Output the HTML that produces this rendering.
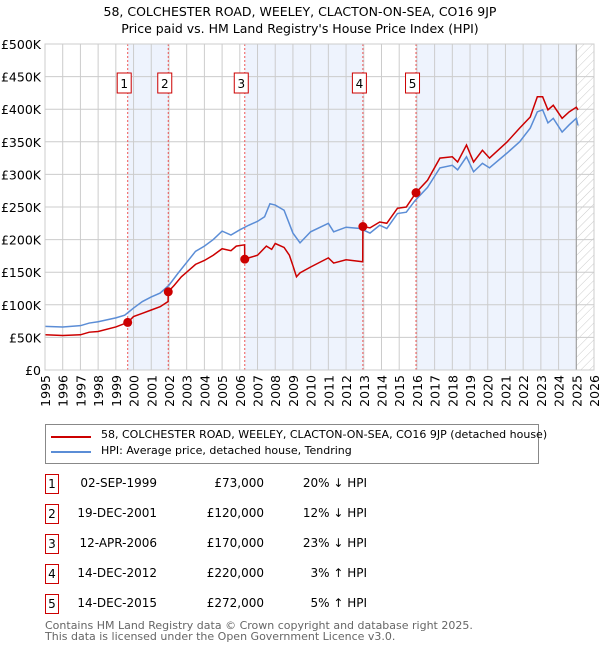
<!DOCTYPE html>
<html><head><meta charset="utf-8"><style>
body{margin:0;background:#fff;font-family:"DejaVu Sans","Liberation Sans",sans-serif;}
#wrap{position:relative;width:600px;height:650px;overflow:hidden}
.t{position:absolute;font-size:12px;color:#000;white-space:nowrap}
</style></head><body><div id="wrap">
<svg id="chart" width="600" height="420" style="position:absolute;left:0;top:0" font-family="DejaVu Sans, Liberation Sans, sans-serif">
<defs><pattern id="hatch" width="6" height="6" patternUnits="userSpaceOnUse" patternTransform="rotate(45)"><line x1="0" y1="0" x2="0" y2="6" stroke="#ccc" stroke-width="1"/></pattern></defs>
<text x="300" y="16" text-anchor="middle" font-size="12.5">58, COLCHESTER ROAD, WEELEY, CLACTON-ON-SEA, CO16 9JP</text>
<text x="300" y="33" text-anchor="middle" font-size="12.5">Price paid vs. HM Land Registry's House Price Index (HPI)</text>
</svg>
<div style="position:absolute;left:45px;top:424px;width:492px;height:38px;border:1px solid #888"></div>
<div style="position:absolute;left:51px;top:436px;width:40px;height:2px;background:#cc0000"></div>
<div class="t" style="left:101px;top:428px;font-size:11px">58, COLCHESTER ROAD, WEELEY, CLACTON-ON-SEA, CO16 9JP (detached house)</div>
<div style="position:absolute;left:51px;top:451px;width:40px;height:2px;background:#5b8dd6"></div>
<div class="t" style="left:101px;top:444px;font-size:11px">HPI: Average price, detached house, Tendring</div>
<div id="tbl"></div>
<div class="t" style="left:45px;top:620px;color:#666;line-height:11px;font-size:11px">Contains HM Land Registry data © Crown copyright and database right 2025.<br>This data is licensed under the Open Government Licence v3.0.</div>
</div>
<script>
const years=[1995,1996,1997,1997.5,1998,1999,1999.5,2000,2000.5,2001,2001.5,2002,2002.5,2003,2003.5,2004,2004.5,2005,2005.5,2006,2006.5,2007,2007.4,2007.7,2008,2008.5,2009,2009.4,2010,2011,2011.3,2012,2012.8,2013.35,2013.9,2014.3,2014.9,2015.4,2015.9,2016.6,2017.3,2018,2018.3,2018.8,2019.2,2019.7,2020.1,2021.1,2021.8,2022.4,2022.8,2023.1,2023.4,2023.7,2024.2,2024.6,2025,2025.1];
const hpi=[67,66,68,72,74,80,84,95,105,112,118,130,148,165,182,190,200,213,207,215,222,228,235,255,253,245,210,195,212,225,212,219,217,210,222,217,240,242,260,280,310,314,307,327,304,317,310,333,350,371,396,399,379,386,365,376,386,375];
const pYears=[1995,1996,1997,1997.5,1998,1999,1999.67,2000,2000.5,2001,2001.5,2001.95,2001.96,2002.3,2002.7,2003,2003.5,2004,2004.5,2005,2005.5,2005.8,2006.27,2006.28,2006.5,2007,2007.5,2007.8,2008,2008.5,2008.8,2009,2009.2,2009.4,2010,2011,2011.3,2012,2012.94,2012.95,2013.35,2013.9,2014.3,2014.9,2015.4,2015.95,2016.6,2017.3,2018,2018.3,2018.8,2019.2,2019.7,2020.1,2021.1,2021.8,2022.4,2022.8,2023.1,2023.4,2023.7,2024.2,2024.6,2025,2025.1];
const price=[54,53,54,58,59,66,73,82,87,92,97,105,120,130,143,150,162,168,176,186,183,190,192,170,172,176,190,185,194,188,176,160,143,149,158,172,164,169,166,220,218,227,225,248,250,272,291,325,327,319,345,319,337,325,350,371,388,419,419,399,406,386,396,403,399];
const saleYears=[1999.67,2001.96,2006.28,2012.95,2015.95];
const saleValues=[73,120,170,220,272];
const saleDates=["02-SEP-1999","19-DEC-2001","12-APR-2006","14-DEC-2012","14-DEC-2015"];
const salePrices=["£73,000","£120,000","£170,000","£220,000","£272,000"];
const saleHpi=["20% ↓ HPI","12% ↓ HPI","23% ↓ HPI","3% ↑ HPI","5% ↑ HPI"];
const yTicks=[0,50,100,150,200,250,300,350,400,450,500];
const yLabels=["£0","£50K","£100K","£150K","£200K","£250K","£300K","£350K","£400K","£450K","£500K"];
const xTicks=[1995,1996,1997,1998,1999,2000,2001,2002,2003,2004,2005,2006,2007,2008,2009,2010,2011,2012,2013,2014,2015,2016,2017,2018,2019,2020,2021,2022,2023,2024,2025,2026];
const X0=45,X1=594,Y0=370,Y1=44;
const sx=y=>X0+(y-1995)/(2026-1995)*(X1-X0);
const sy=v=>Y0-v/500*(Y0-Y1);
const svg=document.getElementById('chart');const NS='http://www.w3.org/2000/svg';
function mk(t,a){const e=document.createElementNS(NS,t);for(const k in a)e.setAttribute(k,a[k]);svg.appendChild(e);return e;}
const shadePairs=[[0,1],[2,3],[4,null]];
shadePairs.forEach(p=>{const a=sx(saleYears[p[0]]);const b=p[1]===null?sx(2025):sx(saleYears[p[1]]);
const r=mk('rect',{x:a,y:Y1,width:b-a,height:Y0-Y1,fill:'#eef3fd'});

});
const h=mk('rect',{x:sx(2025),y:Y1,width:X1-sx(2025),height:Y0-Y1,fill:'url(#hatch)'});


yTicks.forEach((v,i)=>{const l=mk('line',{x1:X0,x2:X1,y1:sy(v),y2:sy(v),stroke:'#ccc'});


const t=mk('text',{x:X0-4,y:sy(v)+5,'text-anchor':'end','font-size':12.5});t.textContent=yLabels[i];

});
xTicks.forEach(y=>{const l=mk('line',{x1:sx(y),x2:sx(y),y1:Y1,y2:Y0,stroke:'#ccc'});


const t=mk('text',{x:0,y:0,'text-anchor':'end','font-size':12.5,transform:`translate(${sx(y)+5},${Y0+5}) rotate(-90)`});t.textContent=y;

});
const vl=mk('line',{x1:sx(2025),x2:sx(2025),y1:Y1,y2:Y0,stroke:'#999','stroke-width':1});


saleYears.forEach((y,i)=>{const l=mk('line',{x1:sx(y),x2:sx(y),y1:Y1,y2:Y0,stroke:'#e55','stroke-dasharray':'2,2'});


const r=mk('rect',{x:sx(y)-10.5,y:73,width:14,height:20,fill:'#fff',stroke:'#cc0000'});


const t=mk('text',{x:sx(y)-3.5,y:88,'text-anchor':'middle','font-size':12});t.textContent=i+1;

});
const hp=mk('polyline',{points:years.map((y,i)=>sx(y)+','+sy(hpi[i])).join(' '),fill:'none',stroke:'#5b8dd6','stroke-width':1.5});


const pp=mk('polyline',{points:pYears.map((y,i)=>sx(y)+','+sy(price[i])).join(' '),fill:'none',stroke:'#cc0000','stroke-width':1.5});


saleYears.forEach((y,i)=>{const c=mk('circle',{cx:sx(y),cy:sy(saleValues[i]),r:4.5,fill:'#cc0000'});

});
const fr=mk('rect',{x:X0,y:Y1,width:X1-X0,height:Y0-Y1,fill:'none',stroke:'#ccc'});


const tbl=document.getElementById('tbl');
const rowY=[483,513,543,573,603];
saleDates.forEach((d,i)=>{const y=rowY[i];
const b=document.createElement('div');b.className='t';b.style.cssText=`left:45px;top:${y-9}px;width:12px;height:18px;border:1px solid #cc0000;text-align:center;line-height:18px`;b.textContent=i+1;

tbl.appendChild(b);
[[d,157,'sale-date'],[salePrices[i],264,'sale-price'],[saleHpi[i],367,'sale-hpi-diff']].forEach(c=>{const e=document.createElement('div');e.className='t';e.style.cssText=`right:${600-c[1]}px;top:${y-7}px`;e.textContent=c[0];

tbl.appendChild(e);});});
</script></body></html>
